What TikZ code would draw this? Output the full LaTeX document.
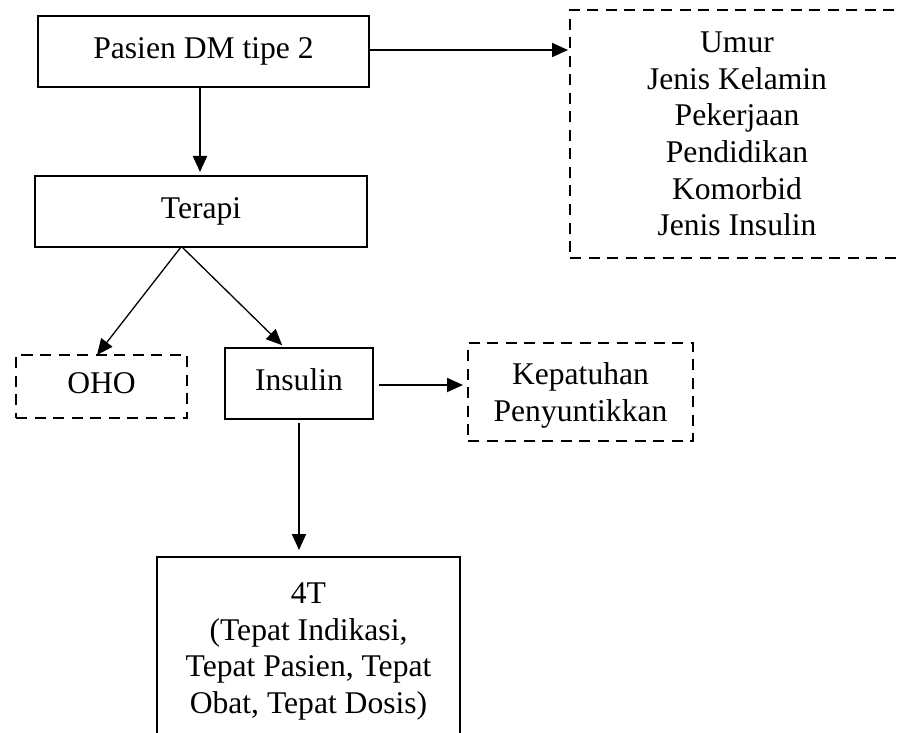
\documentclass[tikz,border=0pt]{standalone}
\usepackage{fontspec}
\setmainfont{Liberation Serif}
\usetikzlibrary{arrows.meta}
\begin{document}
\begin{tikzpicture}[x=1pt,y=-1pt,
  every node/.style={font=\fontsize{31.6}{36.7}\selectfont, inner sep=0pt, outer sep=0pt},
  solidbox/.style={draw, line width=2.3pt, align=center},
  dashbox/.style={draw, line width=2.3pt, dash pattern=on 11pt off 7.5pt, align=center},
  oneline/.style={text height=21.8pt, text depth=6.9pt},
  arr/.style={line width=1.9pt, -{Triangle[length=16pt,width=14pt]}},
  diag/.style={line width=1.3pt, -{Triangle[length=16pt,width=14pt]}}]
\useasboundingbox (0,0) rectangle (898,733);
\clip (0,0) rectangle (898,733);
\node[solidbox, oneline, minimum width=331pt, minimum height=71pt] (pasien) at (203.5,51.5) {Pasien DM tipe 2};
\node[solidbox, oneline, minimum width=332pt, minimum height=71pt] (terapi) at (201,211.5) {Terapi};
\node[dashbox, minimum width=334pt, minimum height=248pt] (info) at (737,134) {\rule{0pt}{18pt}Umur\\Jenis Kelamin\\Pekerjaan\\Pendidikan\\Komorbid\\Jenis Insulin};
\node[dashbox, oneline, minimum width=171pt, minimum height=63pt] (oho) at (101.5,386.5) {OHO};
\node[solidbox, oneline, minimum width=148pt, minimum height=71pt] (insulin) at (299,383.5) {Insulin};
\node[dashbox, minimum width=225pt, minimum height=98pt] (kep) at (580.5,392) {\rule{0pt}{29pt}Kepatuhan\\Penyuntikkan};
\node[solidbox, minimum width=303pt, minimum height=178pt] (t4) at (308.5,646) {\rule{0pt}{31.5pt}4T\\(Tepat Indikasi,\\Tepat Pasien, Tepat\\Obat, Tepat Dosis)};
\draw[arr, shorten >=4pt] ([xshift=-3.5pt]pasien.south) -- ([xshift=-1pt]terapi.north);
\draw[arr, shorten >=2pt] ([yshift=1.5pt]pasien.east) -- ([yshift=84pt]info.west);
\draw[diag] ([xshift=-20pt]terapi.south) -- ([xshift=-4.5pt]oho.north);
\draw[diag, shorten >=4pt] ([xshift=-19pt]terapi.south) -- ([xshift=-14pt]insulin.north);
\draw[arr, shorten <=6pt, shorten >=5pt] ([yshift=-1.5pt]insulin.east) -- ([yshift=7pt]kep.west);
\draw[arr, shorten <=4pt, shorten >=7pt] (insulin.south) -- (insulin.south |- t4.north);
\end{tikzpicture}
\end{document}
